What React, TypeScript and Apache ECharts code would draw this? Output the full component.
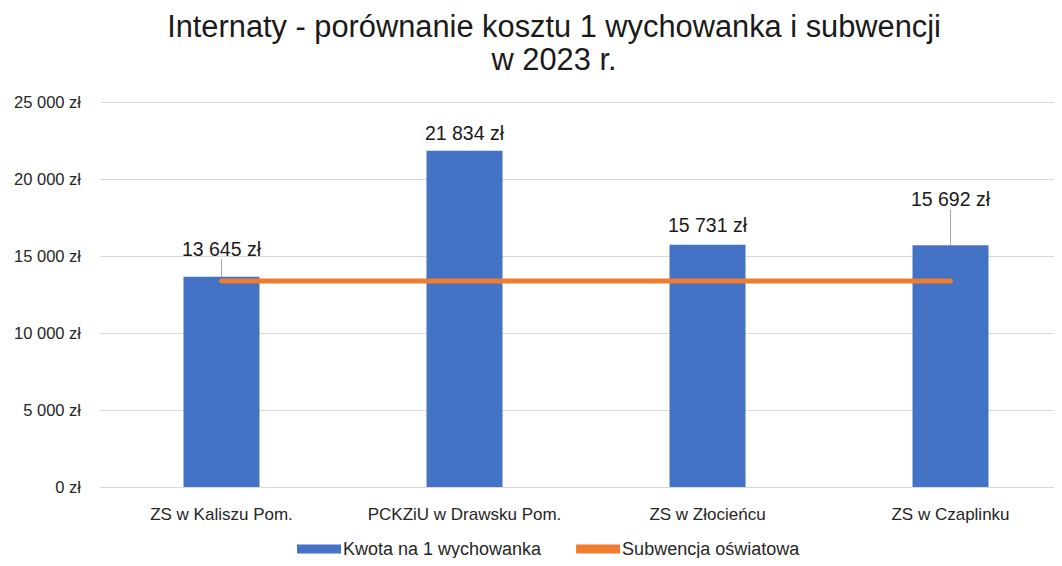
import React, { useEffect, useRef } from "react";
import * as echarts from "echarts";

const categories = ["ZS w Kaliszu Pom.", "PCKZiU w Drawsku Pom.", "ZS w Złocieńcu", "ZS w Czaplinku"];
const kwota = [13645, 21834, 15731, 15692];
const subwencja = [13377, 13377, 13377, 13377];
const labelLift = [10, 0, 2, 28];
const showLeader = [true, false, false, true];
const titleText = "Internaty - porównanie kosztu 1 wychowanka i subwencji\nw 2023 r.";

const fmt = (v: number) => {
  const s = Math.round(v).toString().replace(/\B(?=(\d{3})+(?!\d))/g, " ");
  return s + " zł";
};

export default function App() {
  const ref = useRef<HTMLDivElement>(null);
  useEffect(() => {
    if (!ref.current) return;
    const chart = echarts.init(ref.current, undefined, { renderer: "svg" });
    chart.setOption({
      animation: false,
      backgroundColor: "#ffffff",
      title: {
        text: titleText,
        left: 549,
        textAlign: "center",
        top: 5,
        textStyle: {
          fontFamily: "Liberation Sans, Arial",
          fontSize: 30.8,
          fontWeight: "normal",
          color: "#1a1a1a",
          lineHeight: 33,
          align: "center",
        },
      },
      grid: {
        left: 100,
        width: 972,
        top: 102,
        bottom: 79,
        containLabel: false,
        outerBoundsMode: "none",
      },
      xAxis: {
        type: "category",
        data: categories,
        axisTick: { show: false },
        axisLine: { lineStyle: { color: "#d9d9d9", width: 1 } },
        axisLabel: {
          color: "#262626",
          fontFamily: "Liberation Sans, Arial",
          fontSize: 17,
          margin: 19,
          interval: 0,
          hideOverlap: false,
        },
      },
      yAxis: {
        type: "value",
        min: 0,
        max: 25000,
        interval: 5000,
        axisLine: { show: false },
        axisTick: { show: false },
        splitLine: { lineStyle: { color: "#d9d9d9", width: 1 } },
        axisLabel: {
          color: "#262626",
          fontFamily: "Liberation Sans, Arial",
          fontSize: 16.5,
          margin: 19,
          formatter: (v: number) => fmt(v),
        },
      },
      legend: {
        bottom: 3,
        left: 292,
        itemGap: 35,
        itemWidth: 44,
        itemHeight: 9,
        textStyle: {
          color: "#262626",
          fontFamily: "Liberation Sans, Arial",
          fontSize: 18,
          padding: [0, 0, 0, -3],
        },
        data: [
          { name: "Kwota na 1 wychowanka", icon: "rect" },
          { name: "Subwencja oświatowa", icon: "rect" },
        ],
      },
      series: [
        {
          name: "Kwota na 1 wychowanka",
          type: "bar",
          barWidth: 76,
          itemStyle: { color: "#4472C4" },
          data: kwota.map((v, i) => ({
            value: v,
            labelLine: { show: showLeader[i] },
          })),
          label: {
            show: true,
            position: "top",
            distance: 8,
            color: "#1a1a1a",
            fontFamily: "Liberation Sans, Arial",
            fontSize: 19.5,
            formatter: (p: any) => fmt(p.value),
          },
          labelLine: { show: true, lineStyle: { color: "#a6a6a6", width: 1 } },
          labelLayout: (p: any) => ({ dy: -labelLift[p.dataIndex] }),
          z: 2,
        },
        {
          name: "Subwencja oświatowa",
          type: "line",
          data: subwencja,
          symbol: "none",
          lineStyle: { color: "#ED7D31", width: 5, cap: "round" },
          itemStyle: { color: "#ED7D31" },
          z: 3,
        },
      ],
    });
    return () => chart.dispose();
  }, []);
  return <div ref={ref} style={{ width: 1062, height: 566, margin: -8 }} />;
}
